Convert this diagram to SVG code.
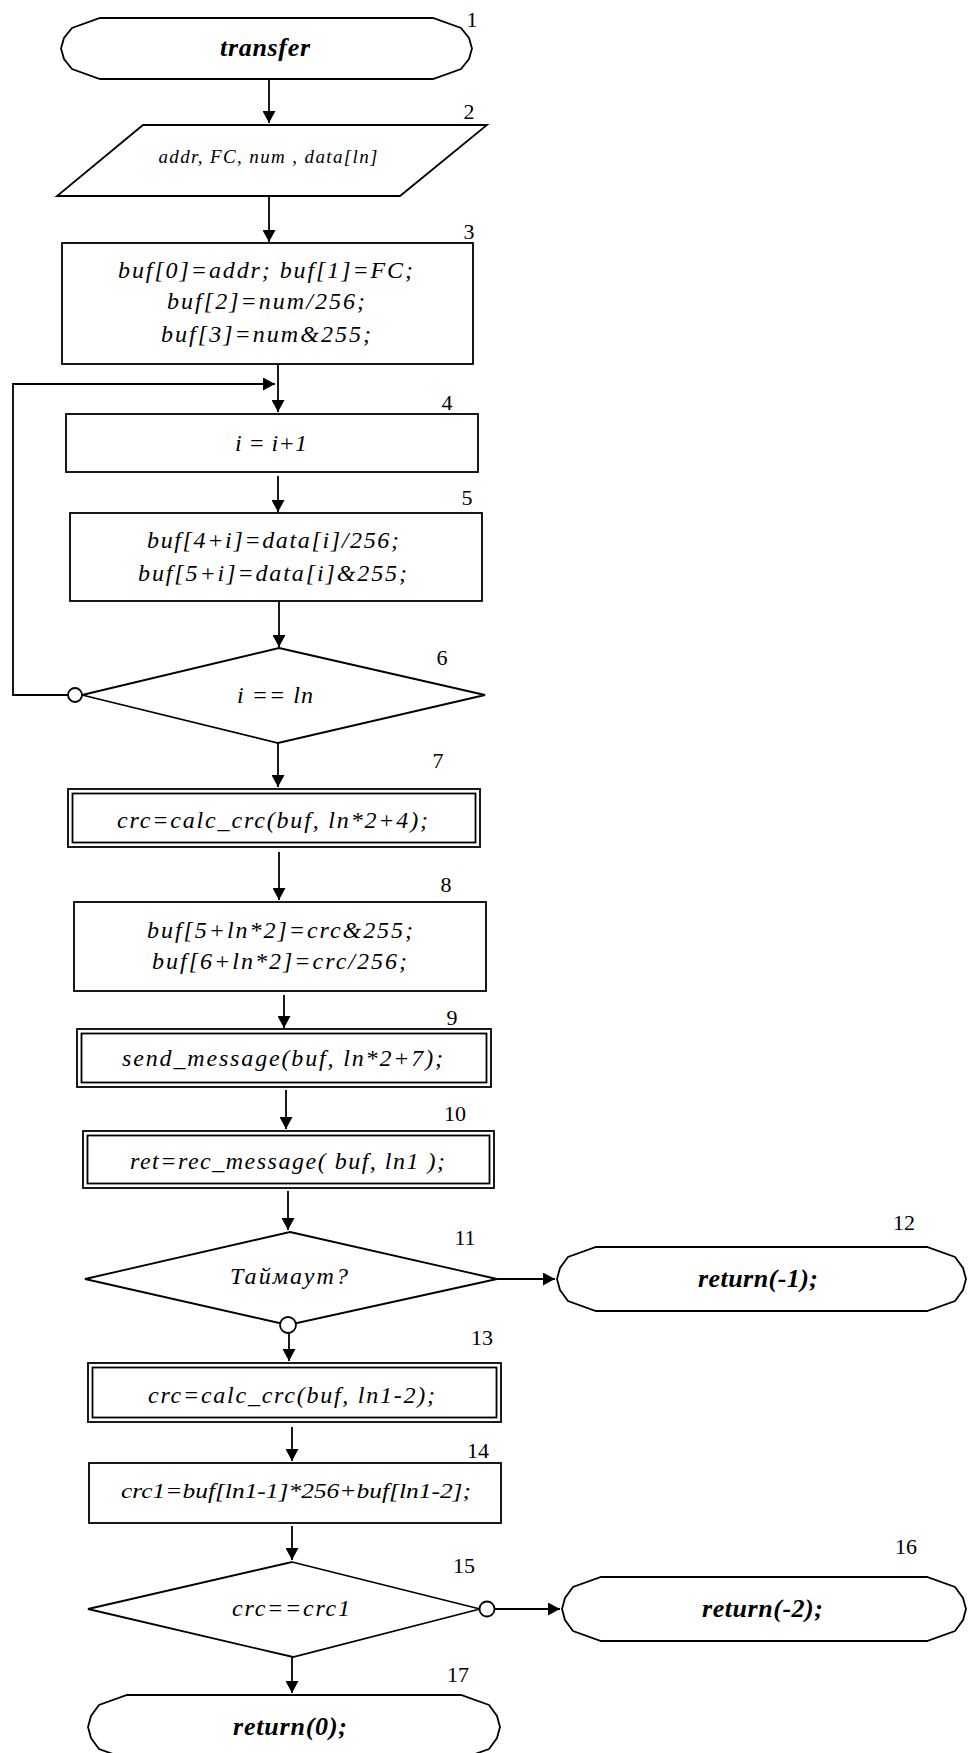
<svg xmlns="http://www.w3.org/2000/svg" width="968" height="1753" viewBox="0 0 968 1753">
<defs>
<marker id="arr" markerUnits="userSpaceOnUse" markerWidth="13" markerHeight="13" refX="12" refY="6.5" orient="auto">
<path d="M0,0 L12,6.5 L0,13 Z" fill="#000"/>
</marker>
<style>
.s{fill:#fff;stroke:#000;stroke-width:1.8}
.c{fill:none;stroke:#000;stroke-width:1.8}
.t{font-family:"Liberation Serif","Times New Roman",serif;font-style:italic;font-size:24px;text-anchor:middle;fill:#000}
.b{font-family:"Liberation Serif","Times New Roman",serif;font-style:italic;font-weight:bold;font-size:26px;text-anchor:middle;fill:#000}
.n{font-family:"Liberation Serif","Times New Roman",serif;font-size:22px;text-anchor:middle;fill:#000}
</style>
</defs>
<rect width="968" height="1753" fill="#fff"/>

<g id="connectors">
<path class="c" d="M269,79 V123" marker-end="url(#arr)"/>
<path class="c" d="M269,196 V242" marker-end="url(#arr)"/>
<path class="c" d="M278,364 V412" marker-end="url(#arr)"/>
<path class="c" d="M68,695 H13 V384 H275" marker-end="url(#arr)"/>
<path class="c" d="M278,476 V512" marker-end="url(#arr)"/>
<path class="c" d="M279,601 V647" marker-end="url(#arr)"/>
<path class="c" d="M278,743 V787" marker-end="url(#arr)"/>
<path class="c" d="M279,852 V900" marker-end="url(#arr)"/>
<path class="c" d="M284,995 V1028" marker-end="url(#arr)"/>
<path class="c" d="M286,1090 V1129" marker-end="url(#arr)"/>
<path class="c" d="M288,1191 V1230" marker-end="url(#arr)"/>
<path class="c" d="M497,1279 H555" marker-end="url(#arr)"/>
<path class="c" d="M289,1333 V1361" marker-end="url(#arr)"/>
<path class="c" d="M292,1427 V1461" marker-end="url(#arr)"/>
<path class="c" d="M292,1526 V1560" marker-end="url(#arr)"/>
<path class="c" d="M495,1609 H560" marker-end="url(#arr)"/>
<path class="c" d="M292,1657 V1693" marker-end="url(#arr)"/>
</g>

<g id="n1">
<path class="s" d="M100,18 H433 L461,28 L469,38 L472,48.5 L469,59 L461,69 L433,79 H100 L72,69 L64,59 L61,48.5 L64,38 L72,28 Z"/>
<text class="b" x="265" y="56" textLength="90" lengthAdjust="spacing">transfer</text>
<text class="n" x="472" y="27">1</text>
</g>

<g id="n2">
<path class="s" d="M143,125 H487 L400,196 H57 Z"/>
<text class="t" x="268" y="163" style="font-size:19px" textLength="219" lengthAdjust="spacing">addr, FC, num , data[ln]</text>
<text class="n" x="469" y="119">2</text>
</g>

<g id="n3">
<rect class="s" x="62" y="243" width="411" height="121"/>
<text class="t" x="265.5" y="278" textLength="295" lengthAdjust="spacing">buf[0]=addr; buf[1]=FC;</text>
<text class="t" x="266" y="309" textLength="198" lengthAdjust="spacing">buf[2]=num/256;</text>
<text class="t" x="266" y="342" textLength="210" lengthAdjust="spacing">buf[3]=num&amp;255;</text>
<text class="n" x="469" y="239">3</text>
</g>

<g id="n4">
<rect class="s" x="66" y="414" width="412" height="58"/>
<text class="t" x="271" y="451" textLength="72" lengthAdjust="spacing">i = i+1</text>
<text class="n" x="447" y="410">4</text>
</g>

<g id="n5">
<rect class="s" x="70" y="513" width="412" height="88"/>
<text class="t" x="273" y="548" textLength="252" lengthAdjust="spacing">buf[4+i]=data[i]/256;</text>
<text class="t" x="272.5" y="581" textLength="269" lengthAdjust="spacing">buf[5+i]=data[i]&amp;255;</text>
<text class="n" x="467" y="505">5</text>
</g>

<g id="n6">
<path class="s" d="M279,648 L485,695 L278,743 L82,695 Z"/>
<circle class="s" cx="75" cy="695" r="7"/>
<text class="t" x="275" y="703" textLength="76" lengthAdjust="spacing">i == ln</text>
<text class="n" x="442" y="665">6</text>
</g>

<g id="n7">
<rect class="s" x="68" y="789" width="412" height="58"/>
<rect class="s" x="72.5" y="793.5" width="403" height="49"/>
<text class="t" x="272.5" y="828" textLength="311" lengthAdjust="spacing">crc=calc_crc(buf, ln*2+4);</text>
<text class="n" x="438" y="768">7</text>
</g>

<g id="n8">
<rect class="s" x="74" y="902" width="412" height="89"/>
<text class="t" x="280" y="938" textLength="266" lengthAdjust="spacing">buf[5+ln*2]=crc&amp;255;</text>
<text class="t" x="279.5" y="969" textLength="255" lengthAdjust="spacing">buf[6+ln*2]=crc/256;</text>
<text class="n" x="446" y="892">8</text>
</g>

<g id="n9">
<rect class="s" x="77" y="1029" width="414" height="58"/>
<rect class="s" x="81.5" y="1033.5" width="405" height="49"/>
<text class="t" x="282.5" y="1066" textLength="321" lengthAdjust="spacing">send_message(buf, ln*2+7);</text>
<text class="n" x="452" y="1025">9</text>
</g>

<g id="n10">
<rect class="s" x="83" y="1131" width="411" height="57"/>
<rect class="s" x="87.5" y="1135.5" width="402" height="48"/>
<text class="t" x="287.5" y="1169" textLength="315" lengthAdjust="spacing">ret=rec_message( buf, ln1 );</text>
<text class="n" x="455" y="1121">10</text>
</g>

<g id="n11">
<path class="s" d="M290,1232 L497,1279 L288,1325 L85,1279 Z"/>
<circle class="s" cx="288" cy="1325" r="8"/>
<text class="t" x="289" y="1284" textLength="118" lengthAdjust="spacing">Таймаут?</text>
<text class="n" x="465" y="1245">11</text>
</g>

<g id="n12">
<path class="s" d="M596,1247 H927 L955,1257 L963,1268 L966,1279 L963,1290 L955,1301 L927,1311 H596 L568,1301 L560,1290 L557,1279 L560,1268 L568,1257 Z"/>
<text class="b" x="758" y="1287" textLength="120" lengthAdjust="spacing">return(-1);</text>
<text class="n" x="904" y="1230">12</text>
</g>

<g id="n13">
<rect class="s" x="88" y="1363" width="413" height="59"/>
<rect class="s" x="92.5" y="1367.5" width="404" height="50"/>
<text class="t" x="291.5" y="1403" textLength="287" lengthAdjust="spacing">crc=calc_crc(buf, ln1-2);</text>
<text class="n" x="482" y="1345">13</text>
</g>

<g id="n14">
<rect class="s" x="89" y="1463" width="412" height="60"/>
<text class="t" x="296" y="1498" style="font-size:22px" textLength="350" lengthAdjust="spacingAndGlyphs">crc1=buf[ln1-1]*256+buf[ln1-2];</text>
<text class="n" x="478" y="1458">14</text>
</g>

<g id="n15">
<path class="s" d="M292,1562 L480,1609 L293,1657 L88,1609 Z"/>
<circle class="s" cx="487" cy="1609" r="7.5"/>
<text class="t" x="291" y="1616" textLength="118" lengthAdjust="spacing">crc==crc1</text>
<text class="n" x="464" y="1573">15</text>
</g>

<g id="n16">
<path class="s" d="M601,1577 H927 L955,1587 L963,1598 L966,1609 L963,1620 L955,1631 L927,1641 H601 L573,1631 L565,1620 L562,1609 L565,1598 L573,1587 Z"/>
<text class="b" x="762.5" y="1617" textLength="121" lengthAdjust="spacing">return(-2);</text>
<text class="n" x="906" y="1554">16</text>
</g>

<g id="n17">
<path class="s" d="M127,1695 H461 L489,1705 L497,1716 L500,1727 L497,1738 L489,1749 L461,1759 H127 L99,1749 L91,1738 L88,1727 L91,1716 L99,1705 Z"/>
<text class="b" x="290" y="1735" textLength="114" lengthAdjust="spacing">return(0);</text>
<text class="n" x="458" y="1682">17</text>
</g>
</svg>
